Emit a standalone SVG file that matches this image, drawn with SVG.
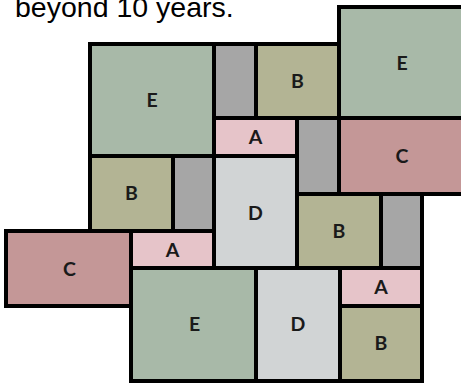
<svg xmlns="http://www.w3.org/2000/svg" width="461" height="383" viewBox="0 0 461 383">
<style>
.b{stroke:#000;stroke-width:4}
.E{fill:#a8b9a8}.G{fill:#a6a6a6}.B{fill:#b3b494}.A{fill:#e6c4c9}.C{fill:#c49797}.D{fill:#d1d4d5}
.l{font-family:Lato,"Open Sans",sans-serif;font-weight:700;font-size:19.5px;fill:#1a1a1a;text-anchor:middle}
.t{font-family:"Liberation Sans",Arial,sans-serif;font-size:28.5px;fill:#000}
</style>
<rect width="461" height="383" fill="#fff"/>
<text class="t" x="15" y="17">beyond 10 years.</text>
<g id="connectors"></g>
<g id="E1"><rect class="b E" x="90" y="44" width="124" height="112"/><text class="l" x="152" y="107">E</text></g>
<g id="G1"><rect class="b G" x="214" y="44" width="42" height="74"/></g>
<g id="B1"><rect class="b B" x="256" y="44" width="83" height="74"/><text class="l" x="297.5" y="88">B</text></g>
<g id="E2"><rect class="b E" x="339" y="7" width="130" height="111"/><text class="l" x="402" y="70">E</text></g>
<g id="A1"><rect class="b A" x="214" y="118" width="83" height="38"/><text class="l" x="255.5" y="144">A</text></g>
<g id="G2"><rect class="b G" x="297" y="118" width="42" height="76"/></g>
<g id="C1"><rect class="b C" x="339" y="118" width="130" height="76"/><text class="l" x="402" y="163">C</text></g>
<g id="B2"><rect class="b B" x="90" y="156" width="83" height="75"/><text class="l" x="131.5" y="200">B</text></g>
<g id="G3"><rect class="b G" x="173" y="156" width="41" height="75"/></g>
<g id="D1"><rect class="b D" x="214" y="156" width="83" height="112"/><text class="l" x="255.5" y="220">D</text></g>
<g id="B3"><rect class="b B" x="297" y="194" width="84" height="74"/><text class="l" x="339" y="238">B</text></g>
<g id="G4"><rect class="b G" x="381" y="194" width="41" height="74"/></g>
<g id="C2"><rect class="b C" x="6" y="231" width="125" height="75"/><text class="l" x="69.5" y="276">C</text></g>
<g id="A2"><rect class="b A" x="131" y="231" width="83" height="37"/><text class="l" x="172.5" y="257">A</text></g>
<g id="E3"><rect class="b E" x="131" y="268" width="125" height="113"/><text class="l" x="194.5" y="331">E</text></g>
<g id="D2"><rect class="b D" x="256" y="268" width="84" height="113"/><text class="l" x="298" y="331">D</text></g>
<g id="A3"><rect class="b A" x="340" y="268" width="82" height="38"/><text class="l" x="381" y="294">A</text></g>
<g id="B4"><rect class="b B" x="340" y="306" width="82" height="75"/><text class="l" x="381" y="350">B</text></g>
</svg>
